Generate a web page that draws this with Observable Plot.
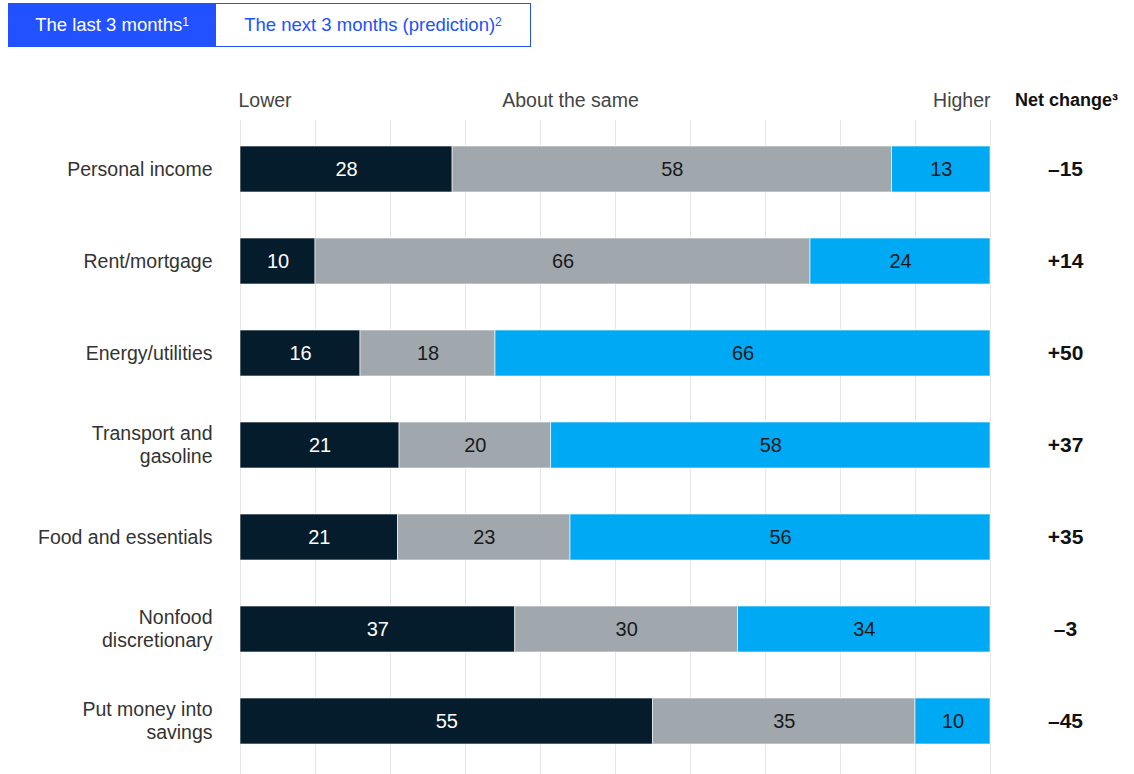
<!DOCTYPE html>
<html>
<head>
<meta charset="utf-8">
<script src="https://cdn.jsdelivr.net/npm/d3@7"></script>
<script src="https://cdn.jsdelivr.net/npm/@observablehq/plot@0.6"></script>
<style>
  body { margin: 0; background: #fff; font-family: "Liberation Sans", Arial, sans-serif; }
  #tabs { position: relative; height: 60px; width: 1134px; }
  .tab { position: absolute; top: 3px; height: 44px; box-sizing: border-box; display: flex; align-items: center; justify-content: center; font-size: 18.5px; }
  .tab sup { font-size: 12px; position: relative; top: -3px; vertical-align: top; }
  #t1 { left: 8px; width: 208px; background: #2251FF; color: #fff; }
  #t2 { left: 215px; width: 316px; border: 1.5px solid #2251FF; color: #2251FF; background: #fff; }
  #chart svg { display: block; }
</style>
</head>
<body>
<div id="tabs">
  <div class="tab" id="t1">The last 3 months<sup>1</sup></div>
  <div class="tab" id="t2">The next 3 months (prediction)<sup>2</sup></div>
</div>
<div id="chart"></div>
<script>
const categories = ["Personal income", "Rent/mortgage", "Energy/utilities", "Transport and gasoline", "Food and essentials", "Nonfood discretionary", "Put money into savings"];
const labels = ["Personal income", "Rent/mortgage", "Energy/utilities", "Transport and\ngasoline", "Food and essentials", "Nonfood\ndiscretionary", "Put money into\nsavings"];
const responses = ["Lower", "About the same", "Higher"];
const lower = [28, 10, 16, 21, 21, 37, 55];
const same = [58, 66, 18, 20, 23, 30, 35];
const higher = [13, 24, 66, 58, 56, 34, 10];
const netChange = [-15, 14, 50, 37, 35, -3, -45];
const colors = ["#051C2C", "#A0A8AE", "#00A9F4"];
const textColors = ["#ffffff", "#1a1a1a", "#1a1a1a"];

const series = [lower, same, higher];
const data = [];
categories.forEach((c, i) => {
  responses.forEach((r, j) => data.push({category: c, response: r, value: series[j][i], ri: j}));
});
const netData = categories.map((c, i) => ({category: c, net: netChange[i]}));
const fmtNet = v => (v > 0 ? "+" : "\u2013") + Math.abs(v);
const labelOf = Object.fromEntries(categories.map((c, i) => [c, labels[i]]));

const chart = Plot.plot({
  width: 1134,
  height: 714,
  marginLeft: 240,
  marginRight: 144,
  marginTop: 60,
  marginBottom: 0,
  style: {fontFamily: "'Liberation Sans', Arial, sans-serif", fontSize: "18px", color: "#333"},
  x: {domain: [0, 1], axis: null},
  y: {domain: categories, range: [38.75, 731.25], padding: 0.5, axis: null},
  color: {domain: responses, range: colors},
  marks: [
    Plot.gridX(d3.range(0, 1.0001, 0.1), {stroke: "#e6e6e6", strokeOpacity: 1, strokeWidth: 1}),
    Plot.barX(data, Plot.stackX({x: "value", y: "category", fill: "response", z: "response", offset: "normalize", order: null, stroke: "#ffffff", strokeWidth: 1, strokeOpacity: 0.6})),
    Plot.text(data, Plot.stackX({x: "value", y: "category", z: "response", offset: "normalize", order: null, text: d => String(d.value), fill: d => textColors[d.ri], fontSize: 20})),
    Plot.text(categories, {y: d => d, text: d => labelOf[d], frameAnchor: "left", textAnchor: "end", dx: -28, dy: -1, lineHeight: 1.15, fill: "#333", fontSize: 19.5}),
    Plot.text(netData, {y: "category", text: d => fmtNet(d.net), frameAnchor: "right", textAnchor: "middle", dx: 75, fontWeight: "bold", fill: "#111", fontSize: 21}),
    Plot.text(["Lower"], {frameAnchor: "top-left", text: d => d, textAnchor: "start", dx: -2, dy: -27, fill: "#444", fontSize: 19.5}),
    Plot.text(["About the same"], {x: 0.44, frameAnchor: "top", text: d => d, dy: -27, fill: "#444", fontSize: 19.5}),
    Plot.text(["Higher"], {frameAnchor: "top-right", text: d => d, textAnchor: "end", dy: -27, fill: "#444", fontSize: 19.5}),
    Plot.text(["Net change\u00B3"], {frameAnchor: "top-right", text: d => d, textAnchor: "middle", dx: 76, dy: -27, fill: "#111", fontWeight: "bold", fontSize: 18})
  ]
});
document.getElementById("chart").appendChild(chart);
</script>
</body>
</html>
